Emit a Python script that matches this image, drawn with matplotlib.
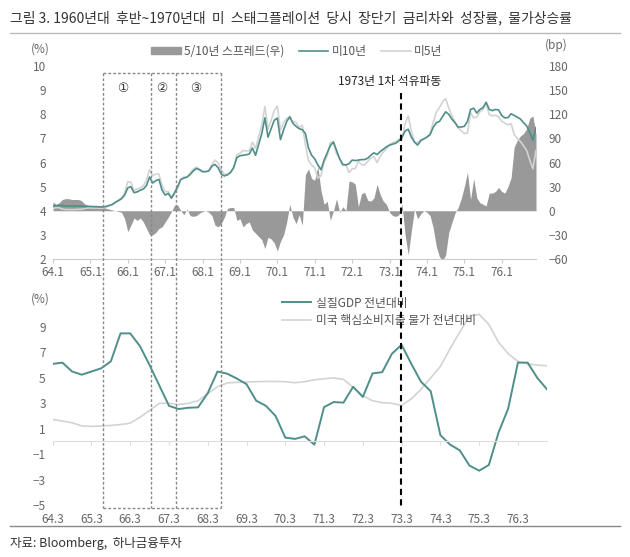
import matplotlib
matplotlib.use('Agg')
import matplotlib.pyplot as plt
import numpy as np
from matplotlib.lines import Line2D
from matplotlib.patches import Patch

plt.rcParams['font.family'] = ['Noto Sans CJK KR', 'DejaVu Sans']

# ---------------- data ----------------
top_tick_labels = ['64.1', '65.1', '66.1', '67.1', '68.1', '69.1', '70.1',
                   '71.1', '72.1', '73.1', '74.1', '75.1', '76.1']
bottom_tick_labels = ['64.3', '65.3', '66.3', '67.3', '68.3', '69.3', '70.3',
                      '71.3', '72.3', '73.3', '74.3', '75.3', '76.3']

# US 10Y yield (%), monthly 1964.01 - 1976.12
ust10 = [
    4.20, 4.21, 4.22, 4.21, 4.20, 4.20, 4.19, 4.19, 4.20, 4.19, 4.18, 4.18,
    4.18, 4.17, 4.17, 4.16, 4.16, 4.18, 4.22, 4.26, 4.35, 4.42, 4.50, 4.65,
    4.95, 5.00, 4.75, 4.78, 4.85, 4.90, 5.05, 5.40, 5.15, 5.25, 5.30, 4.85,
    4.65, 4.72, 4.52, 4.75, 5.00, 5.30, 5.35, 5.40, 5.50, 5.65, 5.75, 5.70,
    5.62, 5.62, 5.65, 5.85, 5.92, 5.78, 5.52, 5.44, 5.50, 5.60, 5.80, 6.20,
    6.28, 6.30, 6.32, 6.35, 6.60, 6.30, 6.75, 7.20, 7.85, 7.05, 7.40, 7.75,
    7.84, 6.95, 7.35, 7.70, 7.90, 7.62, 7.50, 7.40, 7.36, 7.20, 6.60, 6.30,
    6.15, 5.90, 5.70, 6.10, 6.40, 6.70, 6.85, 6.50, 6.15, 5.92, 5.90, 5.95,
    6.10, 6.08, 6.10, 6.12, 6.12, 6.18, 6.30, 6.40, 6.33, 6.45, 6.55, 6.65,
    6.72, 6.76, 6.80, 6.90, 7.05, 7.30, 7.38, 7.05, 6.85, 6.72, 6.90, 6.98,
    7.05, 7.15, 7.45, 7.65, 7.70, 7.90, 8.10, 8.00, 7.80, 7.65, 7.47, 7.47,
    7.50, 7.70, 8.20, 8.25, 8.05, 8.20, 8.28, 8.50, 8.20, 8.15, 8.20, 8.18,
    7.95, 7.85, 7.86, 8.02, 7.95, 7.88, 7.80, 7.65, 7.52, 7.25, 6.92, 7.45,
]

# US 5Y yield (%), monthly
ust5 = [
    4.09, 4.13, 4.12, 4.07, 4.05, 4.05, 4.05, 4.05, 4.06, 4.06, 4.09, 4.11,
    4.12, 4.11, 4.11, 4.10, 4.11, 4.15, 4.20, 4.25, 4.35, 4.43, 4.52, 4.75,
    5.21, 5.18, 4.84, 4.90, 4.94, 5.04, 5.27, 5.70, 5.45, 5.52, 5.52, 5.05,
    4.79, 4.80, 4.53, 4.68, 4.93, 5.30, 5.40, 5.38, 5.56, 5.72, 5.81, 5.73,
    5.63, 5.62, 5.67, 5.91, 6.10, 5.98, 5.68, 5.52, 5.47, 5.56, 5.76, 6.32,
    6.38, 6.50, 6.48, 6.49, 6.84, 6.58, 7.07, 7.56, 8.32, 7.38, 7.75, 8.15,
    8.34, 7.33, 7.65, 7.84, 7.82, 7.70, 7.66, 7.45, 7.54, 6.75, 6.08, 5.90,
    5.77, 5.35, 5.45, 6.02, 6.28, 6.82, 6.85, 6.35, 6.17, 5.87, 5.90, 5.58,
    5.74, 5.75, 6.05, 5.91, 5.89, 6.05, 6.18, 6.24, 6.00, 6.25, 6.43, 6.57,
    6.74, 6.82, 6.87, 6.95, 6.97, 7.60, 7.93, 7.30, 6.83, 6.82, 6.94, 6.98,
    7.07, 7.21, 7.66, 8.09, 8.27, 8.52, 8.65, 8.27, 7.95, 7.68, 7.43, 7.32,
    7.20, 7.22, 8.06, 7.85, 7.89, 8.10, 8.20, 8.44, 7.98, 7.93, 7.96, 7.89,
    7.71, 7.63, 7.56, 7.61, 7.16, 7.00, 6.87, 6.69, 6.50, 6.10, 5.74, 6.50,
]

# 5/10Y spread (bp, right axis), monthly
spread_bp = [
    11, 8, 10, 14, 15, 15, 14, 14, 14, 13, 9, 7,
    6, 6, 6, 6, 5, 3, 2, 1, 0, -1, -2, -10,
    -26, -18, -9, -12, -9, -14, -22, -30, -30, -27, -22, -20,
    -14, -8, -1, 7, 7, 0, -5, 2, -6, -7, -6, -3,
    -1, 0, -2, -6, -18, -20, -16, -8, 3, 4, 4, -12,
    -10, -20, -16, -14, -24, -28, -32, -36, -47, -33, -35, -40,
    -50, -38, -30, -14, 8, -8, -16, -5, -18, 45, 52, 40,
    38, 55, 25, 8, 12, -12, 0, 15, -2, 5, 0, 37,
    36, 33, 5, 21, 23, 13, 12, 16, 33, 20, 12, 8,
    -2, -6, -7, -5, 8, -30, -55, -25, 2, -10, -4, 0,
    -2, -6, -21, -44, -57, -62, -55, -27, -15, -3, 4, 15,
    30, 48, 14, 40, 16, 10, 8, 6, 22, 22, 24, 29,
    24, 22, 30, 41, 79, 88, 93, 96, 102, 115, 118, 95,
]

# quarterly 1964Q1 - 1976Q4
real_gdp_yoy = [
    6.1, 6.2, 5.5, 5.25, 5.5, 5.75, 6.3, 8.5, 8.5, 7.5, 6.0, 4.4, 2.8,
    2.55, 2.65, 2.68, 3.8, 5.5, 5.33, 4.95, 4.5, 3.2, 2.8, 2.0, 0.3, 0.2,
    0.4, -0.25, 2.7, 3.1, 3.05, 4.3, 3.5, 5.35, 5.45, 6.9, 7.6, 6.1, 4.7,
    3.95, 0.5, -0.25, -0.7, -1.9, -2.3, -1.85, 0.7, 2.6, 6.2, 6.2, 5.0, 4.1,
]
core_pce_yoy = [
    1.73, 1.6, 1.47, 1.22, 1.18, 1.22, 1.26, 1.33, 1.44, 1.9, 2.44, 3.0, 3.0,
    2.9, 3.0, 3.2, 3.75, 4.3, 4.6, 4.65, 4.67, 4.7, 4.72, 4.72, 4.7, 4.62,
    4.7, 4.85, 4.93, 5.0, 4.88, 4.25, 3.6, 3.2, 3.05, 3.0, 2.83, 3.35, 4.1,
    5.0, 5.9, 7.3, 8.6, 9.85, 10.0, 9.2, 7.8, 6.9, 6.3, 6.1, 6.0, 5.95,
]

# ---------------- figure ----------------
W, H = 630, 557
fig = plt.figure(figsize=(W / 100, H / 100), dpi=100)


def fx(px):
    return px / W


def fy(py):
    return 1 - py / H


TEAL = '#4f8f89'
LGRAY = '#d3d3d3'
AREA = '#999999'
TXT = '#666666'
FS = 8.5

m = np.arange(len(ust10))
q = np.arange(len(real_gdp_yoy))

# ---- top chart ----
ax = fig.add_axes([fx(53), fy(259), fx(536) - fx(53), (259 - 66) / H])
axr = ax.twinx()
axr.fill_between(m, 0, spread_bp, color=AREA, linewidth=0)
axr.set_ylim(-60, 180)
axr.set_yticks(range(-60, 181, 30))
axr.tick_params(axis='y', length=0, labelcolor=TXT, labelsize=FS, pad=9)
for s in axr.spines.values():
    s.set_visible(False)

ax.plot(m, ust5, color=LGRAY, lw=1.2)
ax.plot(m, ust10, color=TEAL, lw=1.2)
ax.set_zorder(axr.get_zorder() + 1)
ax.patch.set_visible(False)
ax.set_xlim(0, len(m) - 1)
ax.set_ylim(2, 10)
ax.set_yticks(range(2, 11))
ax.tick_params(axis='y', length=0, labelcolor=TXT, labelsize=FS, pad=5)
ax.set_xticks(range(0, len(m), 12))
ax.set_xticklabels(top_tick_labels)
ax.tick_params(axis='x', length=3, color='#cccccc', labelcolor=TXT,
               labelsize=FS, pad=2)
for k in ['top', 'left', 'right']:
    ax.spines[k].set_visible(False)
ax.spines['bottom'].set_color('#cccccc')

# ---- bottom chart ----
ax2 = fig.add_axes([fx(52.7), fy(505), fx(547) - fx(52.7), (505 - 301.6) / H])
ax2.plot(q, core_pce_yoy, color=LGRAY, lw=1.2)
ax2.plot(q, real_gdp_yoy, color=TEAL, lw=1.4)
ax2.set_xlim(0, len(q) - 1)
ax2.set_ylim(-5, 11)
ax2.set_yticks(range(-5, 10, 2))
ax2.tick_params(axis='y', length=0, labelcolor=TXT, labelsize=FS, pad=5)
for k in ['top', 'left', 'right']:
    ax2.spines[k].set_visible(False)
ax2.spines['bottom'].set_position(('data', 0))
ax2.spines['bottom'].set_color('#dddddd')
ax2.set_xticks(range(0, len(q), 4))
ax2.tick_params(axis='x', labelbottom=False, length=3, color='#dddddd')
sec = ax2.secondary_xaxis('bottom')
sec.set_xticks(range(0, len(q), 4))
sec.set_xticklabels(bottom_tick_labels)
sec.tick_params(axis='x', length=0, labelcolor=TXT, labelsize=FS, pad=6)
sec.spines['bottom'].set_visible(False)

# ---- legends ----
h_top = [Patch(color=AREA, label='5/10년 스프레드(우)'),
         Line2D([], [], color=TEAL, lw=1.2, label='미10년'),
         Line2D([], [], color=LGRAY, lw=1.2, label='미5년')]
leg1 = fig.legend(handles=h_top, loc='center', bbox_to_anchor=(fx(297), fy(51)),
                  ncol=3, frameon=False, fontsize=FS, handlelength=2.5,
                  handleheight=0.5, columnspacing=1.2, handletextpad=0.3)
for t in leg1.get_texts():
    t.set_color('#555555')

h_bot = [Line2D([], [], color=TEAL, lw=1.4, label='실질GDP 전년대비'),
         Line2D([], [], color=LGRAY, lw=1.2, label='미국 핵심소비지출 물가 전년대비')]
leg2 = fig.legend(handles=h_bot, loc='upper left', bbox_to_anchor=(fx(271), fy(286)),
                  ncol=1, frameon=False, fontsize=FS, handlelength=2.5,
                  handletextpad=0.4, labelspacing=0.4)
for t in leg2.get_texts():
    t.set_color('#555555')

# ---- annotations: boxes, oil shock line ----
BOX_KW = dict(transform=fig.transFigure, color='#888888', lw=1.0,
              ls=(0, (2, 1.5)), zorder=5)
for xv in [103, 151, 176, 221]:
    fig.add_artist(Line2D([fx(xv), fx(xv)], [fy(73), fy(508)], **BOX_KW))
for yv in [73, 508]:
    fig.add_artist(Line2D([fx(103), fx(221)], [fy(yv), fy(yv)], **BOX_KW))
for xc, lab in [(123, '①'), (162, '②'), (196, '③')]:
    fig.text(fx(xc), fy(88), lab, ha='center', va='center', fontsize=9,
             color='#333333', family=['DejaVu Sans'])

fig.add_artist(Line2D([fx(401), fx(401)], [fy(93), fy(508)],
                      transform=fig.transFigure, color='black', lw=1.5,
                      ls=(0, (3, 2)), zorder=6))
fig.text(fx(390), fy(81), '1973년 1차 석유파동', ha='center', va='center',
         fontsize=FS, color='#222222')

# ---- unit labels ----
fig.text(fx(40), fy(49), '(%)', ha='center', va='center', fontsize=FS, color=TXT)
fig.text(fx(556), fy(45), '(bp)', ha='center', va='center', fontsize=FS, color=TXT)
fig.text(fx(40), fy(299), '(%)', ha='center', va='center', fontsize=FS, color=TXT)

# ---- title, separators, source ----
fig.text(fx(10), fy(18),
         '그림 3. 1960년대  후반~1970년대  미  스태그플레이션  당시  장단기  금리차와  성장률,  물가상승률',
         ha='left', va='center', fontsize=10, color='#333333')
fig.add_artist(Line2D([fx(10), fx(620)], [fy(33), fy(33)],
                      transform=fig.transFigure, color='#bbbbbb', lw=1))
fig.add_artist(Line2D([fx(10), fx(620)], [fy(526), fy(526)],
                      transform=fig.transFigure, color='#888888', lw=1))
fig.text(fx(10), fy(543), '자료: Bloomberg,  하나금융투자', ha='left', va='center',
         fontsize=9, color='#333333')

fig.savefig('out.png', dpi=100)
